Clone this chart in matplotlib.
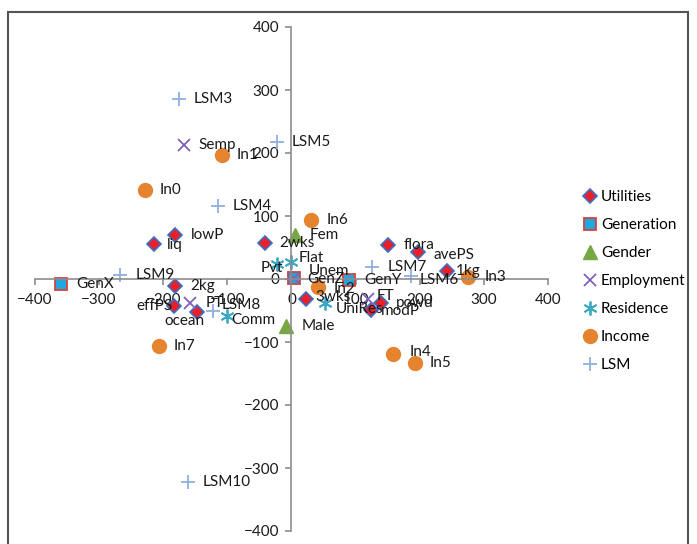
import matplotlib.pyplot as plt
from matplotlib.patches import Rectangle
from matplotlib.lines import Line2D

plt.rcParams['font.family'] = ['Lato', 'DejaVu Sans']

# ---- data ----
util_names = ['liq', 'lowP', '2wks', '2kg', 'effPS', 'ocean', '3wks', 'flora', 'avePS', '1kg', 'powd', 'modP']
util_x = [-215, -181, -42, -181, -184, -147, 22, 151, 198, 243, 139, 124]
util_y = [56, 70, 57, -11, -43, -52, -32, 54, 43, 13, -38, -49]

gen_names = ['GenX', 'GenZ', 'GenY']
gen_x = [-359, 4, 90]
gen_y = [-8, 1, -2]

gender_names = ['Fem', 'Male']
gender_x = [5, -8]
gender_y = [70, -75]

emp_names = ['Semp', 'PT', 'FT', 'Unem']
emp_x = [-168, -158, 120, 4]
emp_y = [213, -38, -32, 1]

res_names = ['Pvt', 'Flat', 'Comm', 'UniRes']
res_x = [-22, 0, -100, 53]
res_y = [24, 27, -59, -38]

inc_names = ['In0', 'In1', 'In6', 'In7', 'In2', 'In3', 'In4', 'In5']
inc_x = [-229, -109, 31, -207, 41, 275, 159, 192]
inc_y = [141, 197, 94, -106, -13, 3, -119, -133]

lsm_names = ['LSM3', 'LSM5', 'LSM4', 'LSM9', 'LSM8', 'LSM7', 'LSM6', 'LSM10']
lsm_x = [-176, -23, -115, -267, -123, 126, 186, -162]
lsm_y = [286, 217, 116, 6, -51, 19, 5, -322]

axis_ticks = [-400, -300, -200, -100, 0, 100, 200, 300, 400]

# series: name, x, y, labels, marker style
series = [
    ('Utilities', util_x, util_y, util_names,
     dict(marker='D', ms=7.5, mfc='#e8202a', mec='#3a6fc4', mew=1.2)),
    ('Generation', gen_x, gen_y, gen_names,
     dict(marker='s', ms=9, mfc='#1fa8e0', mec='#d9403a', mew=1.3)),
    ('Gender', gender_x, gender_y, gender_names,
     dict(marker='^', ms=10, mfc='#78a845', mec='#78a845', mew=1)),
    ('Employment', emp_x, emp_y, emp_names,
     dict(marker='x', ms=9, mfc='none', mec='#8060b8', mew=1.3)),
    ('Residence', res_x, res_y, res_names,
     dict(marker=(6, 2, 0), ms=10, mfc='none', mec='#3ba8c4', mew=1.3)),
    ('Income', inc_x, inc_y, inc_names,
     dict(marker='o', ms=10, mfc='#e5832f', mec='#e5832f', mew=1)),
    ('LSM', lsm_x, lsm_y, lsm_names,
     dict(marker='+', ms=10, mfc='none', mec='#8fb0dc', mew=1.3)),
]

# label offsets in pixels (dx right, dy down); default is plain right
default_off = (15, 0)
label_off = {
    'liq': (13, 1), 'ocean': (-33, 9), 'effPS': (-37, 0), '3wks': (10, -2),
    'avePS': (15, 3), '1kg': (8, 0), 'modP': (10, 1), 'GenZ': (13, 1),
    'Unem': (15, -7), 'Pvt': (-17, 4), 'Flat': (7, -4), 'Comm': (4, 4),
    'UniRes': (10, 6), 'FT': (8, -3), 'In2': (16, 2), 'In4': (16, -2),
    'LSM8': (9, -6), 'LSM6': (9, 4), 'In3': (17, 0),
}

fig = plt.figure(figsize=(6.97, 5.44), dpi=100)
ax = fig.add_axes([35 / 697, 1 - 531 / 544, 513 / 697, 504 / 544])

for name, xs, ys, labels, style in series:
    ax.plot(xs, ys, ls='none', label=name, **style)
    for lab, x, y in zip(labels, xs, ys):
        dx, dy = label_off.get(lab, default_off)
        ax.annotate(lab, (x, y), xytext=(dx * 0.72, -dy * 0.72),
                    textcoords='offset points', va='center', ha='left',
                    fontsize=11, color='#1a1a1a')

ax.set_xlim(-400, 400)
ax.set_ylim(-400, 400)
ax.set_xticks(axis_ticks)
ax.set_yticks(axis_ticks)
for s in ['top', 'right']:
    ax.spines[s].set_visible(False)
for s in ['left', 'bottom']:
    ax.spines[s].set_position('zero')
    ax.spines[s].set_color('#8c8c8c')
    ax.spines[s].set_linewidth(1.2)
ax.tick_params(axis='both', colors='#8c8c8c', length=4, width=1.2,
               labelcolor='#1a1a1a', labelsize=11)
ax.tick_params(axis='x', pad=6)
ax.tick_params(axis='y', pad=5)
ax.patch.set_visible(False)

handles = [Line2D([], [], ls='none', **st) for _, _, _, _, st in series]
fig.legend(handles, [s[0] for s in series], loc='upper left',
           bbox_to_anchor=(578 / 697, 1 - 184 / 544), frameon=False,
           fontsize=11, handlelength=0.8, handletextpad=0.3,
           labelspacing=0.92, borderaxespad=0)

# outer chart border
fig.patches.append(Rectangle((8 / 697, -0.02), 680 / 697, 1.02 - 12 / 544,
                             transform=fig.transFigure, fill=False,
                             ec='#555555', lw=1.5))

fig.savefig('out.png', dpi=100)
